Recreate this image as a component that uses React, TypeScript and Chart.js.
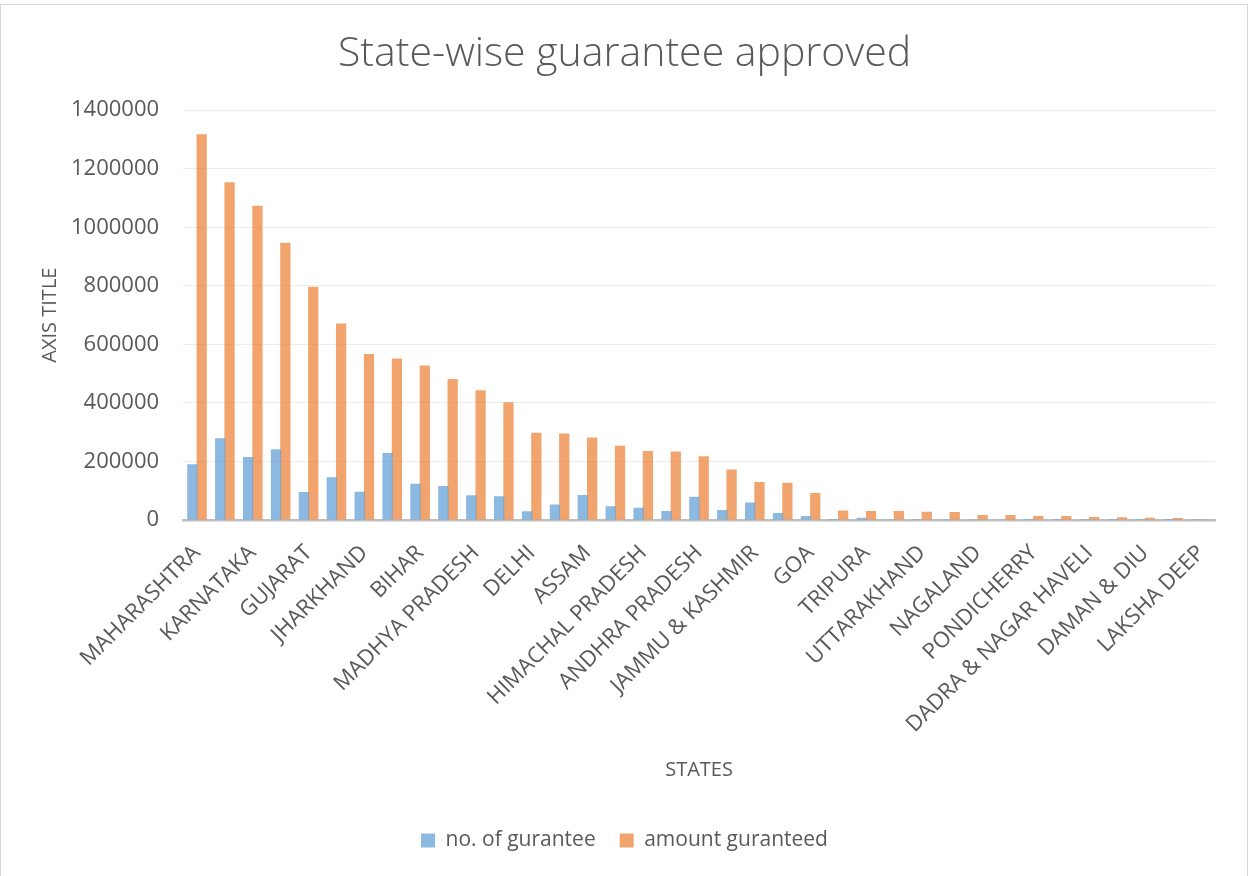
import React, { useEffect, useRef } from "react";
import { Chart, registerables } from "chart.js";

Chart.register(...registerables);

const states = [
  "MAHARASHTRA", "TAMIL NADU", "KARNATAKA", "UTTAR PRADESH", "GUJARAT", "RAJASTHAN",
  "JHARKHAND", "WEST BENGAL", "BIHAR", "KERALA", "MADHYA PRADESH", "TELANGANA",
  "DELHI", "HARYANA", "ASSAM", "ODISHA", "HIMACHAL PRADESH", "PUNJAB",
  "ANDHRA PRADESH", "CHHATTISGARH", "JAMMU & KASHMIR", "CHANDIGARH", "GOA", "MEGHALAYA",
  "TRIPURA", "MANIPUR", "UTTARAKHAND", "SIKKIM", "NAGALAND", "MIZORAM",
  "PONDICHERRY", "ARUNACHAL PRADESH", "DADRA & NAGAR HAVELI", "ANDAMAN & NICOBAR", "DAMAN & DIU", "LADAKH",
  "LAKSHA DEEP",
];

const noOfGuarantee = [
  191000, 279000, 215000, 242000, 96000, 146000,
  97000, 229000, 124000, 116000, 85000, 81000,
  30000, 53500, 85400, 46700, 42100, 30700,
  79600, 34100, 60300, 23900, 13700, 500,
  8000, 3000, 500, 1200, 1000, 1000,
  300, 300, 200, 200, 200, 200,
  100,
];

const amountGuaranteed = [
  1318000, 1154000, 1074000, 947000, 797000, 671000,
  567000, 552000, 528000, 482000, 443000, 402000,
  298000, 296000, 282000, 254000, 236000, 234000,
  218000, 173000, 130000, 127000, 92000, 32500,
  31000, 30500, 28500, 27300, 17500, 17000,
  13700, 13500, 10500, 9800, 8000, 6800,
  1000,
];

const yTicks = [0, 200000, 400000, 600000, 800000, 1000000, 1200000, 1400000];

const FONT = "'Open Sans', 'DejaVu Sans', sans-serif";
const TEXT = "#595959";

const frame = {
  id: "frame",
  beforeDraw(chart: any) {
    const { ctx, width, height } = chart;
    ctx.save();
    ctx.fillStyle = "#ffffff";
    ctx.fillRect(0, 0, width, height);
    ctx.strokeStyle = "#d9d9d9";
    ctx.lineWidth = 1;
    ctx.strokeRect(0.5, 4.5, width - 2, height + 10);
    ctx.restore();
  },
};

export default function App() {
  const ref = useRef<HTMLCanvasElement | null>(null);

  useEffect(() => {
    document.body.style.margin = "0";
    document.body.style.overflow = "hidden";
    const chart = new Chart(ref.current as HTMLCanvasElement, {
      type: "bar",
      data: {
        labels: states,
        datasets: [
          {
            label: "no. of gurantee",
            data: noOfGuarantee,
            backgroundColor: "rgba(91,155,213,0.7)",
            borderWidth: 0,
            categoryPercentage: 0.67,
            barPercentage: 1.1,
          },
          {
            label: "amount guranteed",
            data: amountGuaranteed,
            backgroundColor: "rgba(237,125,49,0.7)",
            borderWidth: 0,
            categoryPercentage: 0.67,
            barPercentage: 1.1,
          },
        ],
      },
      options: {
        responsive: false,
        animation: false,
        layout: { padding: { left: 24, right: 24, top: 0, bottom: 15 } },
        plugins: {
          title: {
            display: true,
            text: "State-wise guarantee approved",
            color: TEXT,
            font: { family: FONT, size: 41, weight: "300" },
            padding: { top: 30, bottom: 31 },
          },
          legend: {
            position: "bottom",
            labels: {
              color: TEXT,
              boxWidth: 14,
              boxHeight: 14,
              padding: 24,
              font: { family: FONT, size: 21 },
            },
          },
          tooltip: { enabled: false },
        },
        scales: {
          x: {
            z: 1,
            grid: { display: false, drawTicks: false },
            border: { display: true, color: "#bfbfbf", width: 2.5 },
            ticks: {
              color: TEXT,
              autoSkip: false,
              maxRotation: 45,
              minRotation: 45,
              padding: 20,
              font: { family: FONT, size: 22 },
              callback: (_v: any, i: number) => (i % 2 === 0 ? states[i] : ""),
            },
            title: {
              display: true,
              text: "STATES",
              color: TEXT,
              font: { family: FONT, size: 20 },
              padding: { top: 0, bottom: 24 },
            },
          },
          y: {
            min: 0,
            max: 1400000,
            afterBuildTicks: (axis: any) => {
              axis.ticks = yTicks.map((v) => ({ value: v }));
            },
            grid: { color: "#ececec", lineWidth: 1, drawTicks: false },
            border: { display: false },
            ticks: {
              color: TEXT,
              padding: 24,
              font: { family: FONT, size: 22 },
              callback: (v: any) => String(v),
            },
            title: {
              display: true,
              text: "AXIS TITLE",
              color: TEXT,
              font: { family: FONT, size: 20 },
              padding: { top: 14, bottom: -15 },
            },
          },
          spacer: {
            type: "linear",
            position: "right",
            display: true,
            grid: { display: false, drawTicks: false },
            border: { display: false },
            ticks: { display: false },
            afterFit: (axis: any) => {
              axis.width = 10;
            },
          },
        },
      },
      plugins: [frame],
    });
    return () => chart.destroy();
  }, []);

  return (
    <div style={{ position: "fixed", left: 0, top: 0, width: 1249, height: 876 }}>
      <canvas ref={ref} width={1249} height={876} style={{ display: "block" }} />
    </div>
  );
}
